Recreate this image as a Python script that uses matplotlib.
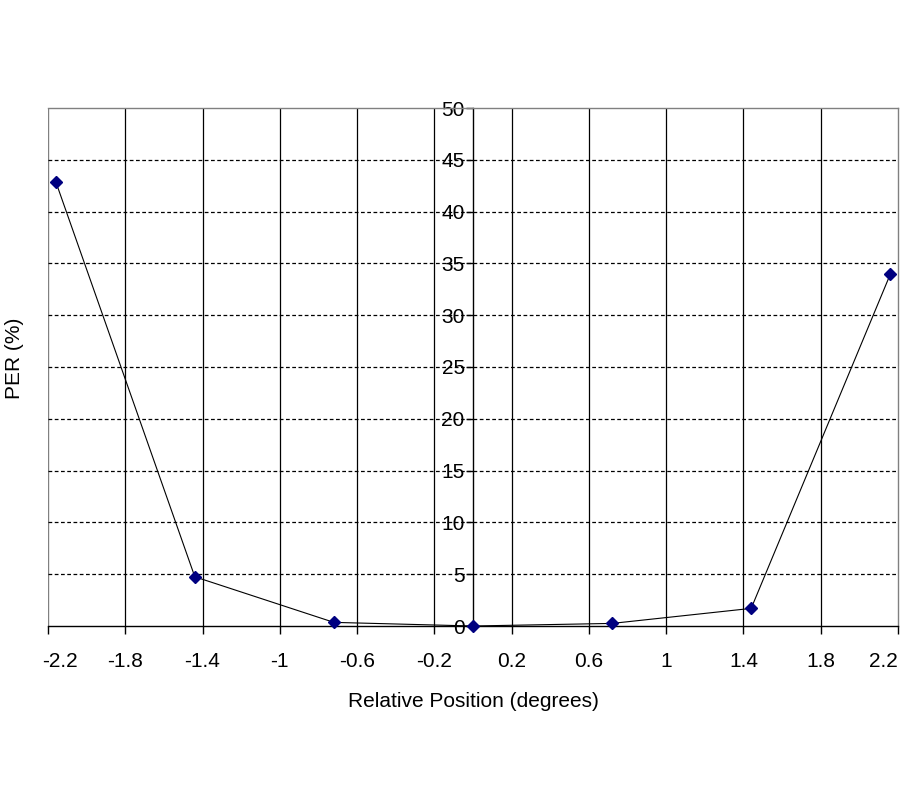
import matplotlib
matplotlib.use("Agg")
import matplotlib.pyplot as plt
import matplotlib.transforms as mtransforms
import numpy as np

positions = [-2.16, -1.44, -0.72, 0.0, 0.72, 1.44, 2.16]
per_values = [42.9, 4.75, 0.35, 0.0, 0.25, 1.7, 33.95]
x_ticks = [-2.2, -1.8, -1.4, -1.0, -0.6, -0.2, 0.2, 0.6, 1.0, 1.4, 1.8, 2.2]
x_tick_labels = ["-2.2", "-1.8", "-1.4", "-1", "-0.6", "-0.2", "0.2", "0.6", "1", "1.4", "1.8", "2.2"]
y_ticks = [0, 5, 10, 15, 20, 25, 30, 35, 40, 45, 50]

plt.rcParams['font.family'] = ['Liberation Sans', 'DejaVu Sans']

fig = plt.figure(figsize=(9, 8), dpi=100)
ax = fig.add_axes([48/900, 1-626/800, (898-48)/900, (626-108)/800])

ax.set_xlim(-2.2, 2.2)
ax.set_ylim(0, 50)

# grid lines
for xv in x_ticks[1:-1]:
    ax.axvline(xv, color='black', lw=0.9, zorder=1)
for yv in y_ticks[1:-1]:
    ax.axhline(yv, color='black', lw=0.9, ls=(0, (3, 2)), zorder=1)

ax.plot(positions, per_values, color='black', lw=0.8, marker='D', markersize=6.5,
        markerfacecolor='#000080', markeredgecolor='#000080', zorder=3, clip_on=False)

# spines
ax.spines['left'].set_position(('data', 0))
ax.spines['left'].set_color('black')
ax.spines['left'].set_linewidth(1.0)
ax.spines['bottom'].set_color('black')
ax.spines['bottom'].set_linewidth(1.0)
for s in ['top', 'right']:
    ax.spines[s].set_color('#808080')
    ax.spines[s].set_linewidth(1.0)
ax.axvline(-2.2, color='#808080', lw=1.0, zorder=0.5)

ax.set_xticks(x_ticks)
ax.set_xticklabels(x_tick_labels)
ax.set_yticks(y_ticks)
ax.set_yticklabels([str(v) for v in y_ticks])
ax.tick_params(axis='x', direction='out', length=6, width=1, pad=13, labelsize=15)
ax.tick_params(axis='y', direction='out', length=5, width=1, pad=1, labelsize=15)

xlabels = ax.get_xticklabels()
xlabels[0].set_horizontalalignment('left')
xlabels[0].set_transform(xlabels[0].get_transform() + mtransforms.ScaledTranslation(-6/100, 0, fig.dpi_scale_trans))
xlabels[-1].set_horizontalalignment('right')

ax.set_xlabel('Relative Position (degrees)', fontsize=15, labelpad=15)
fig.text(15/900, 1-358/800, 'PER (%)', rotation=90, fontsize=15, ha='center', va='center')

fig.savefig('out.png', dpi=100)
